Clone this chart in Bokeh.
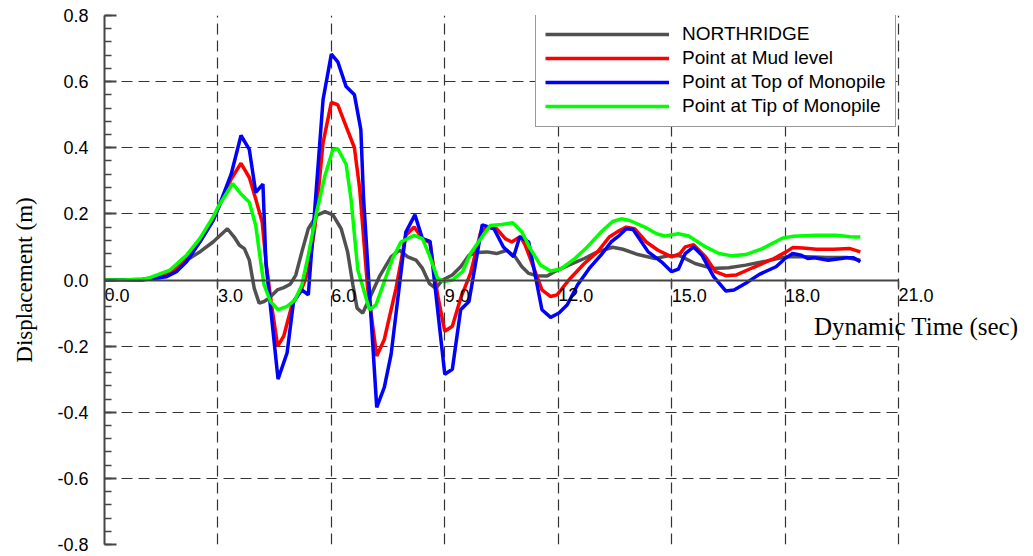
from bokeh.plotting import figure
from bokeh.models import Range1d, FixedTicker, PrintfTickFormatter, Legend, LegendItem, Label, Grid
from bokeh.embed import file_html
from bokeh.resources import INLINE

# ---------------- data ----------------
x_ticks = [0, 3, 6, 9, 12, 15, 18, 21]
y_ticks = [-0.8, -0.6, -0.4, -0.2, 0.0, 0.2, 0.4, 0.6, 0.8]

t_nr = [0.0, 0.5, 1.0, 1.47, 1.82, 2.17, 2.52, 2.87, 3.25, 3.43, 3.57, 3.70, 3.83, 3.96, 4.09, 4.22, 4.35, 4.57,
        4.74, 4.91, 5.06, 5.22, 5.39, 5.61, 5.83, 6.04, 6.26, 6.43, 6.57, 6.68, 6.83, 7.01, 7.27, 7.58, 7.80, 8.02,
        8.24, 8.41, 8.59, 8.76, 8.94, 9.20, 9.42, 9.64, 9.86, 10.12, 10.37, 10.64, 10.86, 11.04, 11.22, 11.44,
        11.71, 11.93, 12.28, 12.69, 13.04, 13.44, 13.71, 14.11, 14.56, 14.91, 15.22, 15.62, 16.07, 16.51, 16.96,
        17.49, 18.03, 18.56, 19.10, 19.63, 19.99]
v_nr = [0.0, 0.0, 0.002, 0.01, 0.03, 0.06, 0.085, 0.115, 0.155, 0.13, 0.105, 0.095, 0.06, -0.025, -0.07, -0.065,
        -0.055, -0.03, -0.023, -0.013, 0.015, 0.085, 0.155, 0.195, 0.207, 0.197, 0.155, 0.085, -0.015, -0.085,
        -0.10, -0.055, 0.01, 0.07, 0.09, 0.07, 0.06, 0.035, -0.01, -0.025, 0.0, 0.015, 0.04, 0.075, 0.083, 0.085,
        0.08, 0.09, 0.07, 0.04, 0.02, 0.013, 0.012, 0.027, 0.045, 0.065, 0.085, 0.099, 0.093, 0.077, 0.065, 0.073,
        0.073, 0.05, 0.035, 0.037, 0.045, 0.057, 0.07, 0.07, 0.068, 0.068, 0.06]

t_mud = [0.0, 0.5, 1.0, 1.47, 1.82, 2.17, 2.52, 2.87, 3.0, 3.35, 3.61, 3.83, 4.0, 4.17, 4.28, 4.43, 4.58, 4.74,
         4.96, 5.22, 5.39, 5.57, 5.78, 6.0, 6.17, 6.39, 6.61, 6.75, 6.96, 7.2, 7.4, 7.71, 7.97, 8.19, 8.41, 8.61,
         8.81, 9.0, 9.2, 9.42, 9.68, 9.95, 10.12, 10.37, 10.6, 10.77, 11.0, 11.13, 11.57, 11.8, 11.97, 12.28,
         12.69, 13.04, 13.35, 13.58, 13.8, 14.02, 14.33, 14.64, 15.0, 15.22, 15.36, 15.58, 15.9, 16.16, 16.43,
         16.7, 17.14, 17.67, 18.03, 18.2, 18.47, 18.83, 19.28, 19.72, 19.99]
v_mud = [0.0, 0.0, 0.001, 0.007, 0.027, 0.065, 0.115, 0.18, 0.215, 0.305, 0.353, 0.31, 0.245, 0.175, 0.045,
         -0.085, -0.20, -0.17, -0.075, -0.025, 0.025, 0.165, 0.415, 0.537, 0.53, 0.465, 0.40, 0.275, -0.025,
         -0.23, -0.18, -0.025, 0.135, 0.16, 0.125, 0.113, -0.045, -0.155, -0.14, -0.055, 0.02, 0.145, 0.16,
         0.155, 0.125, 0.115, 0.132, 0.105, -0.03, -0.05, -0.045, 0.0, 0.05, 0.085, 0.13, 0.147, 0.16, 0.155,
         0.115, 0.09, 0.07, 0.08, 0.10, 0.107, 0.07, 0.025, 0.013, 0.015, 0.037, 0.063, 0.085, 0.098, 0.097,
         0.093, 0.093, 0.095, 0.085]

t_top = [0.0, 0.5, 1.0, 1.64, 1.9, 2.17, 2.52, 2.87, 3.0, 3.35, 3.61, 3.83, 4.0, 4.19, 4.27, 4.59, 4.83, 5.0,
         5.22, 5.39, 5.78, 6.0, 6.17, 6.39, 6.61, 6.78, 6.85, 7.2, 7.4, 7.58, 7.97, 8.21, 8.41, 8.61, 9.0, 9.2,
         9.42, 9.64, 9.99, 10.3, 10.55, 10.82, 10.98, 11.22, 11.57, 11.8, 12.02, 12.24, 12.51, 12.82, 13.13,
         13.4, 13.62, 13.8, 13.98, 14.38, 14.73, 15.0, 15.18, 15.36, 15.58, 15.8, 16.11, 16.43, 16.65, 16.96,
         17.32, 17.76, 17.98, 18.2, 18.43, 18.6, 18.78, 19.14, 19.63, 19.81, 19.99]
v_top = [0.0, 0.0, 0.001, 0.01, 0.025, 0.055, 0.115, 0.18, 0.215, 0.32, 0.437, 0.395, 0.265, 0.29, 0.05, -0.30,
         -0.22, -0.065, -0.03, -0.045, 0.545, 0.683, 0.66, 0.585, 0.56, 0.455, 0.25, -0.385, -0.325, -0.225,
         0.145, 0.197, 0.125, 0.117, -0.285, -0.27, -0.09, -0.065, 0.167, 0.155, 0.10, 0.07, 0.13, 0.115, -0.09,
         -0.113, -0.10, -0.075, -0.015, 0.035, 0.075, 0.115, 0.135, 0.155, 0.153, 0.085, 0.055, 0.025, 0.033,
         0.08, 0.10, 0.075, 0.01, -0.033, -0.03, -0.01, 0.017, 0.04, 0.063, 0.08, 0.075, 0.065, 0.067, 0.06,
         0.067, 0.067, 0.055]

t_tip = [0.0, 0.5, 1.0, 1.2, 1.73, 2.17, 2.52, 2.87, 3.0, 3.39, 3.61, 3.83, 4.0, 4.13, 4.22, 4.39, 4.59, 4.83,
         5.04, 5.22, 5.39, 5.61, 5.83, 6.04, 6.17, 6.39, 6.52, 6.7, 7.01, 7.18, 7.4, 7.62, 7.84, 8.19, 8.41, 8.59,
         8.81, 8.99, 9.2, 9.47, 9.68, 9.95, 10.2, 10.5, 10.8, 11.04, 11.26, 11.53, 11.8, 12.06, 12.42, 12.77,
         13.13, 13.44, 13.67, 13.89, 14.29, 14.6, 14.82, 15.18, 15.45, 15.9, 16.25, 16.6, 16.96, 17.4, 17.94,
         18.2, 18.83, 19.36, 19.72, 19.99]
v_tip = [0.0, 0.0, 0.002, 0.007, 0.03, 0.075, 0.125, 0.19, 0.22, 0.292, 0.26, 0.235, 0.165, 0.055, -0.015,
         -0.065, -0.09, -0.08, -0.06, -0.015, 0.075, 0.205, 0.315, 0.395, 0.397, 0.35, 0.245, 0.03, -0.09,
         -0.075, -0.005, 0.065, 0.115, 0.135, 0.125, 0.075, 0.005, -0.005, 0.0, 0.025, 0.08, 0.125, 0.165,
         0.168, 0.173, 0.145, 0.095, 0.045, 0.027, 0.033, 0.063, 0.10, 0.145, 0.177, 0.185, 0.18, 0.16, 0.14,
         0.133, 0.14, 0.133, 0.10, 0.08, 0.073, 0.077, 0.095, 0.127, 0.132, 0.135, 0.135, 0.131, 0.13]

series_names = ["NORTHRIDGE", "Point at Mud level", "Point at Top of Monopile", "Point at Tip of Monopile"]
series_colors = ["#505050", "#ff0000", "#0000ff", "#00ff00"]

# ---------------- layout ----------------
W, H = 1033, 556
FL, FR, FT, FB = 104, 1031, 15, 544      # frame edges in page pixels
AXIS_END = 21.0                           # where the drawn axis/grid stops
X_END = AXIS_END * (FR - FL) / (898 - FL)  # extra frame room on the right for the x title

p = figure(width=W, height=H, x_range=Range1d(0, X_END), y_range=Range1d(-0.8, 0.8),
           output_backend="svg", toolbar_location=None,
           min_border_left=FL, min_border_right=W - FR, min_border_top=FT, min_border_bottom=H - FB)
p.outline_line_color = None
p.background_fill_color = "white"

# x axis crossing at y = 0
xa = p.xaxis[0]
xa.fixed_location = 0
xa.bounds = (0, AXIS_END)
xa.ticker = FixedTicker(ticks=x_ticks, minor_ticks=[])
xa.formatter = PrintfTickFormatter(format="%.1f")
xa.axis_line_color = "#444444"
xa.axis_line_width = 2
xa.major_tick_line_color = "#444444"
xa.major_tick_line_width = 1.5
xa.major_tick_in = 0
xa.major_tick_out = 7
xa.minor_tick_line_color = None
xa.major_label_orientation = -1e-6
xa.major_label_standoff = 8
xa.major_label_text_font = "Liberation Sans"
xa.major_label_text_font_size = "18px"
xa.major_label_text_color = "black"

ya = p.yaxis[0]
minor = [round(-0.8 + 0.04 * i, 2) for i in range(41)]
ya.ticker = FixedTicker(ticks=y_ticks, minor_ticks=minor)
ya.formatter = PrintfTickFormatter(format="%.1f")
ya.axis_line_color = "#444444"
ya.axis_line_width = 2
ya.major_tick_line_color = "#444444"
ya.major_tick_line_width = 2
ya.major_tick_in = 12
ya.major_tick_out = 0
ya.minor_tick_line_color = "#444444"
ya.minor_tick_line_width = 1.5
ya.minor_tick_in = 7
ya.minor_tick_out = 0
ya.major_label_standoff = 16
ya.major_label_text_font = "Liberation Sans"
ya.major_label_text_font_size = "18px"
ya.major_label_text_color = "black"
ya.axis_label = "Displacement (m)"
ya.axis_label_text_font = "Liberation Serif"
ya.axis_label_text_font_style = "normal"
ya.axis_label_text_font_size = "23px"
ya.axis_label_text_color = "black"
ya.axis_label_standoff = 17

for g in p.grid:
    g.grid_line_color = "#333333"
    g.grid_line_width = 1.2
    g.grid_line_dash = "11 6"
p.xgrid[0].bounds = (0, AXIS_END)
if "cross_bounds" in Grid.properties():
    p.ygrid[0].cross_bounds = (0, AXIS_END)
else:
    p.ygrid[0].visible = False
    p.segment(x0=[0] * len(y_ticks), x1=[AXIS_END] * len(y_ticks), y0=y_ticks, y1=y_ticks,
              line_color="#333333", line_width=1.2, line_dash="11 6")

renderers = []
for tt, vv, c in [(t_nr, v_nr, series_colors[0]), (t_mud, v_mud, series_colors[1]),
                  (t_top, v_top, series_colors[2]), (t_tip, v_tip, series_colors[3])]:
    renderers.append(p.line(tt, vv, line_color=c, line_width=3.5))

legend = Legend(items=[LegendItem(label=n, renderers=[r]) for n, r in zip(series_names, renderers)],
                location=(431, FB - 127), margin=0, padding=9, spacing=2,
                glyph_width=124, glyph_height=20, label_height=20, label_standoff=13,
                label_text_font="Liberation Sans", label_text_font_size="19px", label_text_color="black",
                border_line_color="#333333", border_line_width=1.5,
                background_fill_color="white", background_fill_alpha=1.0)
p.add_layout(legend)

p.add_layout(Label(x=21.55, y=-0.14, text="Dynamic Time  (sec)", text_font="Liberation Serif",
                   text_font_size="25px", text_align="center", text_baseline="middle", text_color="black"))

open("out.html", "w").write(file_html(p, INLINE))
